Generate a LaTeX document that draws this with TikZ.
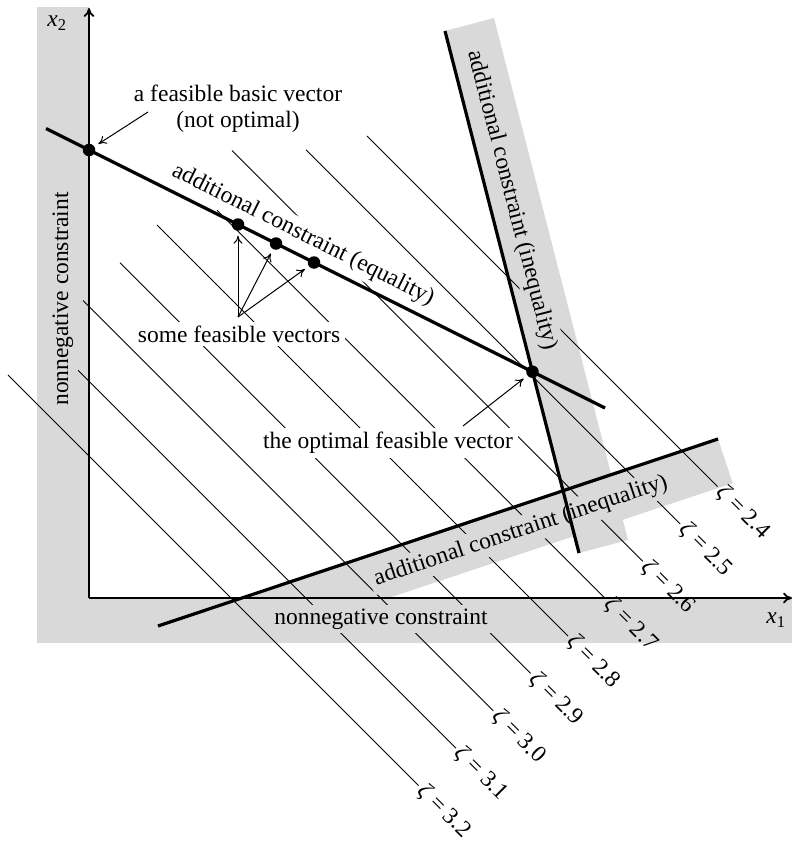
\documentclass[tikz,border=0pt]{standalone}
\usepackage{fontspec}
\setmainfont{Liberation Serif}
\usetikzlibrary{arrows.meta}
\definecolor{band}{HTML}{D9D9D9}

\begin{document}
\begin{tikzpicture}[x=1pt,y=-1pt,font=\fontsize{23.5}{26}\selectfont,
  lbl/.style={fill=white,inner xsep=5pt,inner ysep=4pt},
  glbl/.style={lbl,fill=band},
  lvl/.style={line width=0.9pt},
  cons/.style={line width=3.2pt},
  axis/.style={line width=1.8pt,-{To[length=9pt,width=11pt]}},
  dot/.style={circle,fill,inner sep=0pt,minimum size=12.5pt,outer sep=5pt},
  ptr/.style={line width=1pt,-{To[length=8pt,width=9pt]}}]
  \useasboundingbox (0,0) rectangle (792,845);
  % shaded half-planes
  \fill[band] (37,7) rectangle (89,643);
  \fill[band] (37,598) rectangle (792,643);
  \fill[band] (445,31) -- (494,18) -- (628,540) -- (579,553) -- cycle;
  \fill[band] (242,598) -- (718,439) -- (732.7,483.1) -- (388.6,598) -- cycle;
  % level lines zeta = const
  \foreach \xs/\c/\z [count=\i] in {367/-231/2.4, 306/-156.25/2.5, 232/-81.5/2.6,
      217/-6.75/2.7, 157/68/2.8, 120/142.75/2.9, 83/217.5/3.0, 78/292.25/3.1, 8/367/3.2}
    \draw[lvl] ({\xs},{\xs+\c}) -- ({(1204-\c)/2},{(1204+\c)/2})
      node[anchor=west,rotate=-45,inner sep=3pt] (zeta\i) {\textit{ζ} = \z};
  % labels (they break the level lines)
  \node[lbl,align=center] (basic) at (238,109) {a feasible basic vector\\(not optimal)};
  \node[lbl,rotate=-26.57] (eqlbl) at (303,235) {additional constraint (equality)};
  \node[lbl] (some) at (239,334) {some feasible vectors};
  \node[lbl] (optlbl) at (388,443) {the optimal feasible vector};
  \node[glbl,rotate=90] (nnleft) at (63,299) {nonnegative constraint};
  \node[glbl] (nnbottom) at (381,619) {nonnegative constraint};
  \node[glbl,rotate=-75.6] (steeplbl) at (512,200) {additional constraint (inequality)};
  \node[glbl,rotate=18.47] (lowlbl) at (521,531) {additional constraint (inequality)};
  % constraint boundaries
  \coordinate (eqA) at (46,128.5); \coordinate (eqB) at (605,408);
  \coordinate (stA) at (445,31);   \coordinate (stB) at (579,553);
  \coordinate (loA) at (158,626);  \coordinate (loB) at (718,439);
  \draw[cons] (eqA) -- (eqB);
  \draw[cons] (stA) -- (stB);
  \draw[cons] (loA) -- (loB);
  % axes
  \coordinate (O) at (89,598);
  \coordinate (xoneend) at (792,598);
  \coordinate (xtwoend) at (89,8);
  \draw[axis] (O) -- (xoneend);
  \draw[axis] (O) -- (xtwoend);
  \node (xone) at (776,620) {\textit{x}\textsubscript{1}};
  \node (xtwo) at (57,23) {\textit{x}\textsubscript{2}};
  % feasible points
  \node[dot] (pbasic) at (intersection of eqA--eqB and O--xtwoend) {};
  \node[dot] (pa) at (238,224.5) {};
  \node[dot] (pb) at (276,243.5) {};
  \node[dot] (pc) at (314,262.5) {};
  \node[dot] (popt) at (intersection of eqA--eqB and stA--stB) {};
  % pointers
  \coordinate (tbasic) at (148,112);
  \coordinate (tsome) at (238,317);
  \coordinate (topt) at (463,426);
  \draw[ptr] (tbasic) -- (pbasic);
  \foreach \p in {pa,pb,pc} \draw[ptr] (tsome) -- (\p);
  \draw[ptr] (topt) -- (popt);
\end{tikzpicture}
\end{document}
